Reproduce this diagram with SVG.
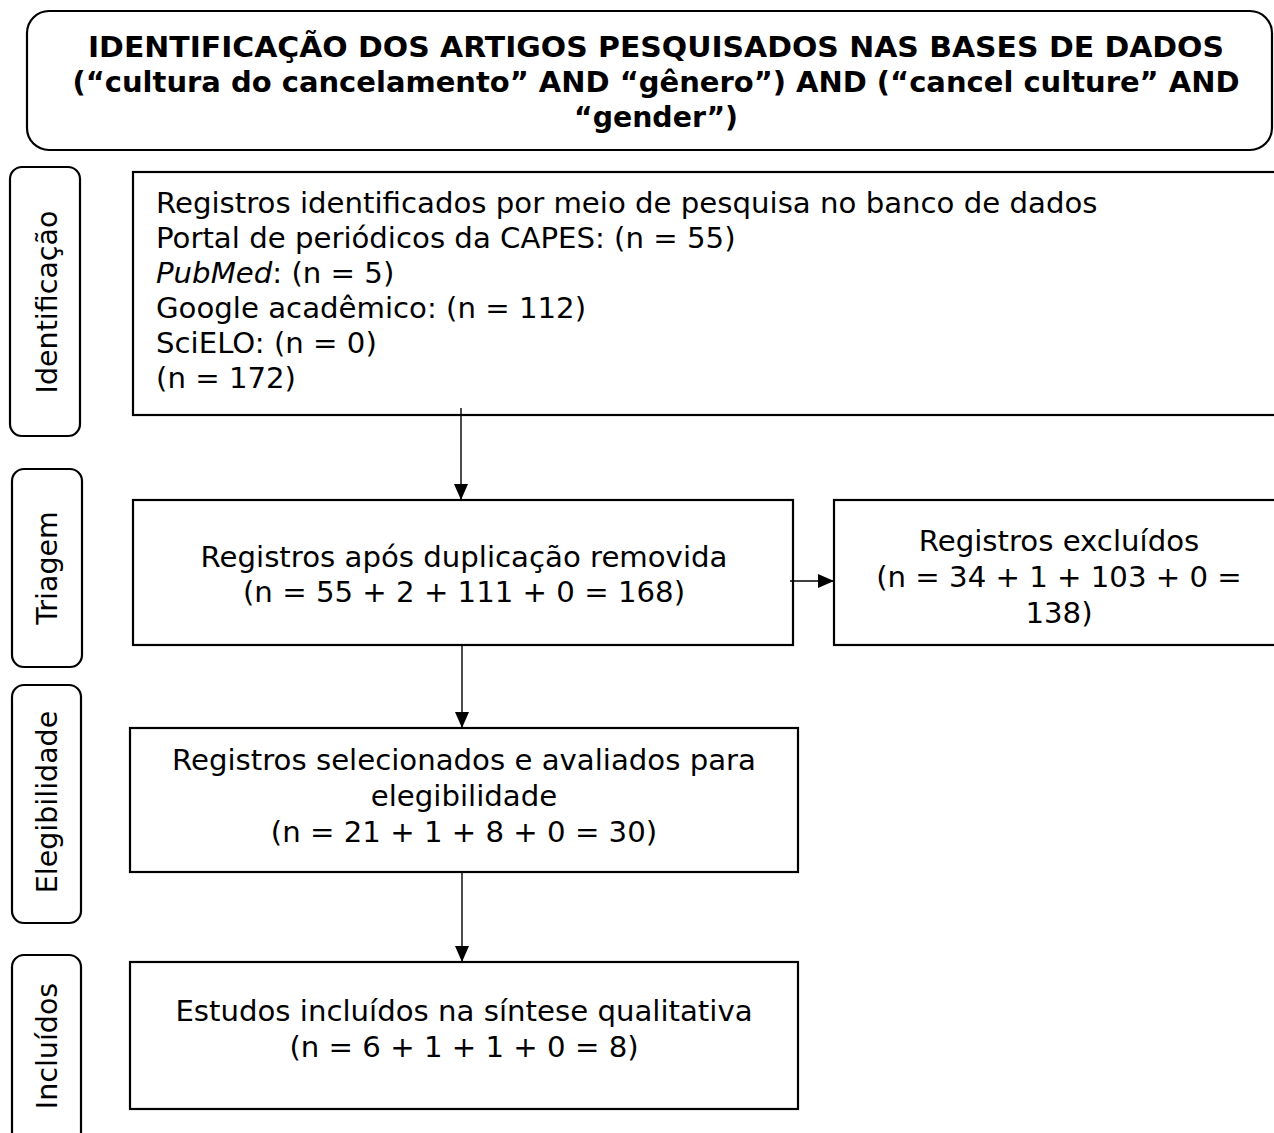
<svg xmlns="http://www.w3.org/2000/svg" width="1274" height="1133" viewBox="0 0 1274 1133">
<style>
.box{fill:#fff;stroke:#000;stroke-width:2.2}
.lab{fill:#fff;stroke:#000;stroke-width:2.2}
.t{font-family:"DejaVu Sans",Verdana,sans-serif;font-size:29.2px;fill:#000}
.c{text-anchor:middle}
.h{font-family:"DejaVu Sans",Verdana,sans-serif;font-size:28px;font-weight:bold;fill:#000;text-anchor:middle}
.v{font-family:"DejaVu Sans",Verdana,sans-serif;font-size:28.5px;fill:#000;text-anchor:middle}
.edge{stroke:#000;stroke-width:1.4;fill:none}
</style>
<defs>
<marker id="ah" markerUnits="userSpaceOnUse" markerWidth="16" markerHeight="14" refX="16" refY="7" orient="auto" viewBox="0 0 16 14">
<path d="M0,0 L16,7 L0,14 Z" fill="#000"/>
</marker>
</defs>
<rect width="1274" height="1133" fill="#fff"/>

<g id="title">
<rect class="box" x="27" y="11" width="1245" height="139" rx="22"/>
<text class="h" x="656" y="57" textLength="1136" lengthAdjust="spacingAndGlyphs">IDENTIFICAÇÃO DOS ARTIGOS PESQUISADOS NAS BASES DE DADOS</text>
<text class="h" x="656" y="92" textLength="1167" lengthAdjust="spacingAndGlyphs">(“cultura do cancelamento” AND “gênero”) AND (“cancel culture” AND</text>
<text class="h" x="656" y="127" textLength="164" lengthAdjust="spacingAndGlyphs">“gender”)</text>
</g>

<g id="label-identificacao">
<rect class="lab" x="10" y="167" width="70" height="269" rx="12"/>
<text class="v" transform="translate(57,302) rotate(-90)">Identificação</text>
</g>
<g id="label-triagem">
<rect class="lab" x="12" y="469" width="70" height="198" rx="12"/>
<text class="v" transform="translate(57,568) rotate(-90)">Triagem</text>
</g>
<g id="label-elegibilidade">
<rect class="lab" x="12" y="685" width="69" height="238" rx="12"/>
<text class="v" transform="translate(57,802) rotate(-90)">Elegibilidade</text>
</g>
<g id="label-incluidos">
<rect class="lab" x="12" y="955" width="69" height="200" rx="12"/>
<text class="v" transform="translate(57,1046) rotate(-90)">Incluídos</text>
</g>

<g id="node-identificados">
<rect class="box" x="133" y="172" width="1160" height="243"/>
<text class="t" x="156" y="213">Registros identificados por meio de pesquisa no banco de dados</text>
<text class="t" x="156" y="248">Portal de periódicos da CAPES: (n = 55)</text>
<text class="t" x="156" y="283"><tspan font-style="italic">PubMed</tspan>: (n = 5)</text>
<text class="t" x="156" y="318">Google acadêmico: (n = 112)</text>
<text class="t" x="156" y="353">SciELO: (n = 0)</text>
<text class="t" x="156" y="388">(n = 172)</text>
</g>

<g id="node-triagem">
<rect class="box" x="133" y="500" width="660" height="145"/>
<text class="t c" x="464" y="567">Registros após duplicação removida</text>
<text class="t c" x="464" y="602">(n = 55 + 2 + 111 + 0 = 168)</text>
</g>

<g id="node-excluidos">
<rect class="box" x="834" y="500" width="460" height="145"/>
<text class="t c" x="1059" y="551">Registros excluídos</text>
<text class="t c" x="1059" y="587">(n = 34 + 1 + 103 + 0 =</text>
<text class="t c" x="1059" y="623">138)</text>
</g>

<g id="node-elegibilidade">
<rect class="box" x="130" y="728" width="668" height="144"/>
<text class="t c" x="464" y="770">Registros selecionados e avaliados para</text>
<text class="t c" x="464" y="806">elegibilidade</text>
<text class="t c" x="464" y="842">(n = 21 + 1 + 8 + 0 = 30)</text>
</g>

<g id="node-incluidos">
<rect class="box" x="130" y="962" width="668" height="147"/>
<text class="t c" x="464" y="1021">Estudos incluídos na síntese qualitativa</text>
<text class="t c" x="464" y="1057">(n = 6 + 1 + 1 + 0 = 8)</text>
</g>

<g id="connectors">
<line class="edge" x1="461" y1="408" x2="461" y2="500" marker-end="url(#ah)"/>
<line class="edge" x1="790" y1="581" x2="834" y2="581" marker-end="url(#ah)"/>
<line class="edge" x1="462" y1="645" x2="462" y2="728" marker-end="url(#ah)"/>
<line class="edge" x1="462" y1="872" x2="462" y2="962" marker-end="url(#ah)"/>
</g>
</svg>
